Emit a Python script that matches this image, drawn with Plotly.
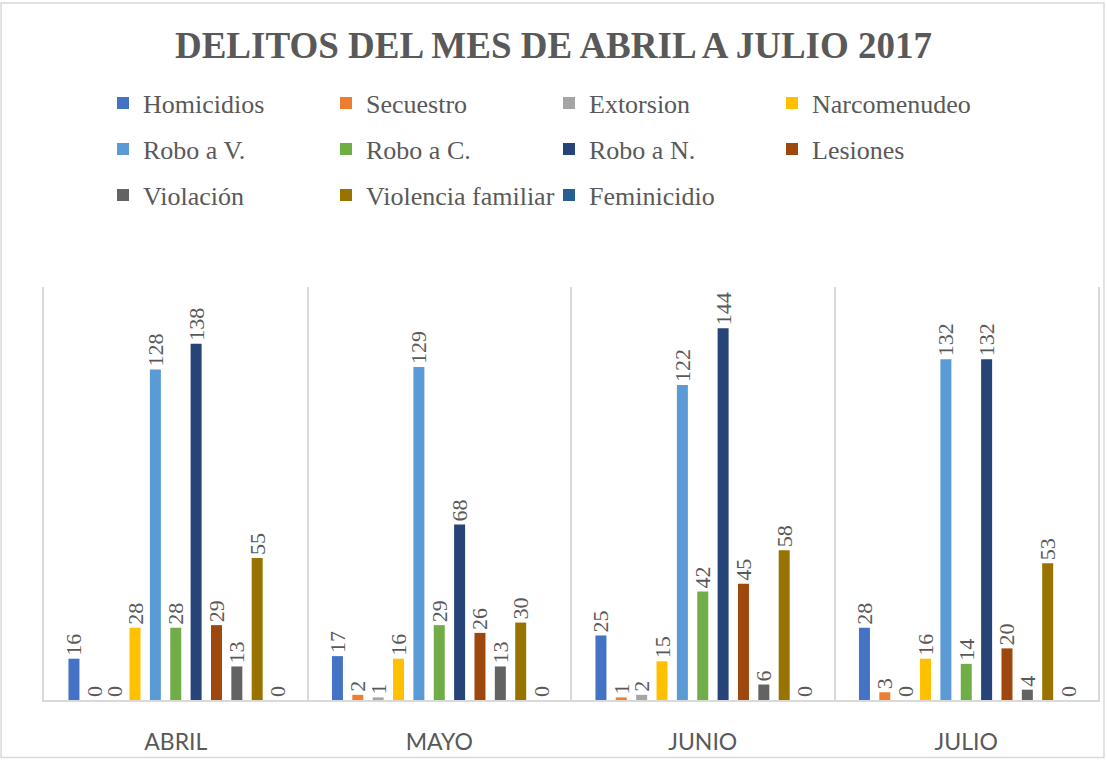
import plotly.graph_objects as go

months = ["ABRIL", "MAYO", "JUNIO", "JULIO"]
series_names = ["Homicidios", "Secuestro", "Extorsion", "Narcomenudeo",
                "Robo a V.", "Robo a C.", "Robo a N.", "Lesiones",
                "Violación", "Violencia familiar", "Feminicidio"]
homicidios = [16, 17, 25, 28]
secuestro = [0, 2, 1, 3]
extorsion = [0, 1, 2, 0]
narcomenudeo = [28, 16, 15, 16]
robo_v = [128, 129, 122, 132]
robo_c = [28, 29, 42, 14]
robo_n = [138, 68, 144, 132]
lesiones = [29, 26, 45, 20]
violacion = [13, 13, 6, 4]
violencia_familiar = [55, 30, 58, 53]
feminicidio = [0, 0, 0, 0]

values = [homicidios, secuestro, extorsion, narcomenudeo, robo_v, robo_c,
          robo_n, lesiones, violacion, violencia_familiar, feminicidio]
colors = ["#4472C4", "#ED7D31", "#A5A5A5", "#FFC000", "#5B9BD5", "#70AD47",
          "#264478", "#9E480E", "#636363", "#997300", "#255E91"]

W, H = 1107, 762
ML, MR, MT, MB = 44, 7, 287, 59
PW, PH = W - ML - MR, H - MT - MB
GRAY = "#595959"
SERIF = "Liberation Serif, Times New Roman, serif"

fig = go.Figure()
legend_ids = ["legend", "legend2", "legend3"]
for i, (name, vals, col) in enumerate(zip(series_names, values, colors)):
    fig.add_trace(go.Bar(
        x=months, y=vals, name=name, marker_color=col,
        marker_line_width=0,
        text=[str(v) for v in vals], textposition="outside", textangle=-90,
        textfont=dict(family=SERIF, size=22, color=GRAY),
        constraintext="none", cliponaxis=False,
        legend=legend_ids[i // 4],
    ))

row_y = [103, 149, 195]
legend_common = dict(
    orientation="h", xref="container", yref="container",
    x=103 / W, xanchor="left", yanchor="middle",
    font=dict(family=SERIF, size=26, color=GRAY),
    entrywidth=178, entrywidthmode="pixels",
    bgcolor="rgba(0,0,0,0)", itemclick=False, itemdoubleclick=False,
)
layout_legends = {}
for lid, ry in zip(legend_ids, row_y):
    d = dict(legend_common)
    d["y"] = 1 - ry / H
    layout_legends[lid] = d

fig.update_layout(
    width=W, height=H,
    margin=dict(l=ML, r=MR, t=MT, b=MB),
    paper_bgcolor="white", plot_bgcolor="white",
    barmode="group", bargap=0.15, bargroupgap=0.46,
    title=dict(text="<b>DELITOS DEL MES DE ABRIL A JULIO 2017</b>",
               font=dict(family=SERIF, size=37, color=GRAY),
               xref="container", x=0.5, xanchor="center",
               yref="container", y=1 - 45 / H, yanchor="middle"),
    xaxis=dict(type="category", range=[-0.5, 3.5], tickson="boundaries",
               showgrid=True, gridcolor="#D9D9D9", gridwidth=1.5,
               showline=True, linecolor="#D9D9D9", linewidth=2,
               ticks="", ticklabelstandoff=20,
               tickfont=dict(family="Lato, Open Sans, sans-serif", size=23, color=GRAY)),
    yaxis=dict(range=[0, 160], showgrid=False, zeroline=False,
               showticklabels=False, showline=True, mirror=True,
               linecolor="#D9D9D9", linewidth=1.5, ticks=""),
    showlegend=True,
    shapes=[dict(type="rect", xref="paper", yref="paper",
                 x0=(1 - ML) / PW, x1=(W - 1 - ML) / PW,
                 y0=(MT + PH - (H - 1)) / PH, y1=(MT + PH - 1) / PH,
                 line=dict(color="#D9D9D9", width=1.5), layer="below")],
    **layout_legends,
)

fig.write_html("out.html",
               config={"displayModeBar": False},
               post_script="document.body.style.margin='0';document.body.style.padding='0';")
